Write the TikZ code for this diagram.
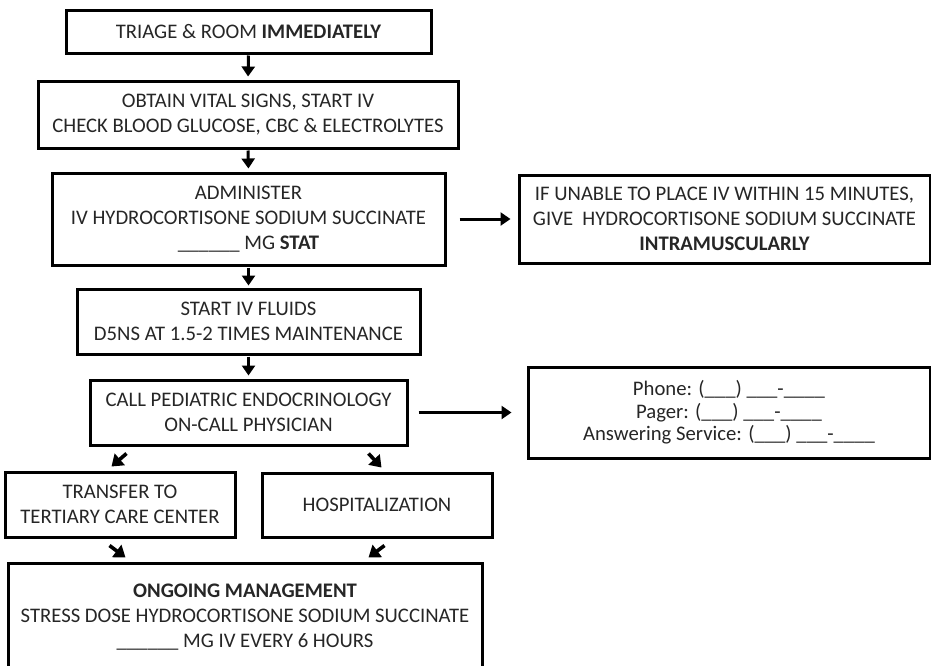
\documentclass[tikz,border=0pt]{standalone}
\usepackage{fontspec}
\setmainfont{Carlito}
\usetikzlibrary{arrows.meta}
\begin{document}
\begin{tikzpicture}[x=1pt,y=-1pt,
  box/.style={draw=black, line width=3pt, rectangle, inner sep=0pt, align=center,
    font=\fontsize{20.7}{25}\selectfont, text=black!85},
  arr/.style={line width=3pt, -{Triangle[length=10pt,width=13pt]}},
  darr/.style={line width=3.6pt, -{Triangle[length=11pt,width=15pt]}},
]
\useasboundingbox (0,0) rectangle (931,665);
\fill[white] (0,0) rectangle (931,665);

\node[box, minimum width=365pt, minimum height=43pt] (triage) at (248.5,31.5)
  {TRIAGE \& ROOM \textbf{IMMEDIATELY}};
\node[box, minimum width=420pt, minimum height=67pt] (vitals) at (248,114.5)
  {OBTAIN VITAL SIGNS, START IV\\CHECK BLOOD GLUCOSE, CBC \& ELECTROLYTES};
\node[box, minimum width=393pt, minimum height=92pt] (admin) at (248.5,219)
  {ADMINISTER\\IV HYDROCORTISONE SODIUM SUCCINATE\\\_\_\_\_\_\_ MG \textbf{STAT}};
\node[box, minimum width=343pt, minimum height=65pt] (fluids) at (248.5,321.5)
  {START IV FLUIDS\\D5NS AT 1.5-2 TIMES MAINTENANCE};
\node[box, minimum width=317pt, minimum height=65pt] (call) at (248.5,412.5)
  {CALL PEDIATRIC ENDOCRINOLOGY\\ON-CALL PHYSICIAN};
\node[box, minimum width=411pt, minimum height=88pt] (im) at (724.5,219)
  {IF UNABLE TO PLACE IV WITHIN 15 MINUTES,\\GIVE\ \ HYDROCORTISONE SODIUM SUCCINATE\\\textbf{INTRAMUSCULARLY}};
\node[box, minimum width=402pt, minimum height=91pt,
  font=\fontsize{20.7}{22.5}\selectfont] (phone) at (729,412.5)
  {Phone: (\_\_\_) \_\_\_-\_\_\_\_\\Pager: (\_\_\_) \_\_\_-\_\_\_\_\\Answering Service: (\_\_\_) \_\_\_-\_\_\_\_};
\node[box, minimum width=230pt, minimum height=65pt] (transfer) at (120,504.5)
  {TRANSFER TO\\TERTIARY CARE CENTER};
\node[box, minimum width=230pt, minimum height=64pt] (hosp) at (377,505)
  {HOSPITALIZATION};
\node[box, minimum width=474pt, minimum height=108pt] (ongoing) at (245,617)
  {\textbf{ONGOING MANAGEMENT}\\STRESS DOSE HYDROCORTISONE SODIUM SUCCINATE\\\_\_\_\_\_\_ MG IV EVERY 6 HOURS};

\draw[arr, shorten <=1pt, shorten >=3pt] (triage.south) -- (vitals.north);
\draw[arr, shorten <=1pt, shorten >=3pt] (vitals.south) -- (admin.north);
\draw[arr, shorten <=1pt, shorten >=2pt] (admin.south) -- (fluids.north);
\draw[arr, shorten <=1pt, shorten >=3pt] (fluids.south) -- (call.north);
\draw[arr, shorten <=13pt, shorten >=7pt] (admin.east) -- (im.west);
\draw[arr, shorten <=10pt, shorten >=15pt] (call.east) -- (phone.west);

\coordinate (a1) at ([xshift=38pt,yshift=-7pt]call.south west);
\coordinate (b1) at ([xshift=108pt,yshift=4pt]transfer.north west);
\coordinate (a2) at ([xshift=-40pt,yshift=-7pt]call.south east);
\coordinate (b2) at ([xshift=121pt,yshift=4pt]hosp.north west);
\coordinate (a3) at ([xshift=106pt,yshift=-7pt]transfer.south west);
\coordinate (b3) at ([xshift=119pt,yshift=4pt]ongoing.north west);
\coordinate (a4) at ([xshift=124pt,yshift=-7pt]hosp.south west);
\coordinate (b4) at ([xshift=362pt,yshift=4pt]ongoing.north west);
\draw[darr] (a1) -- (b1);
\draw[darr] (a2) -- (b2);
\draw[darr] (a3) -- (b3);
\draw[darr] (a4) -- (b4);
\end{tikzpicture}
\end{document}
